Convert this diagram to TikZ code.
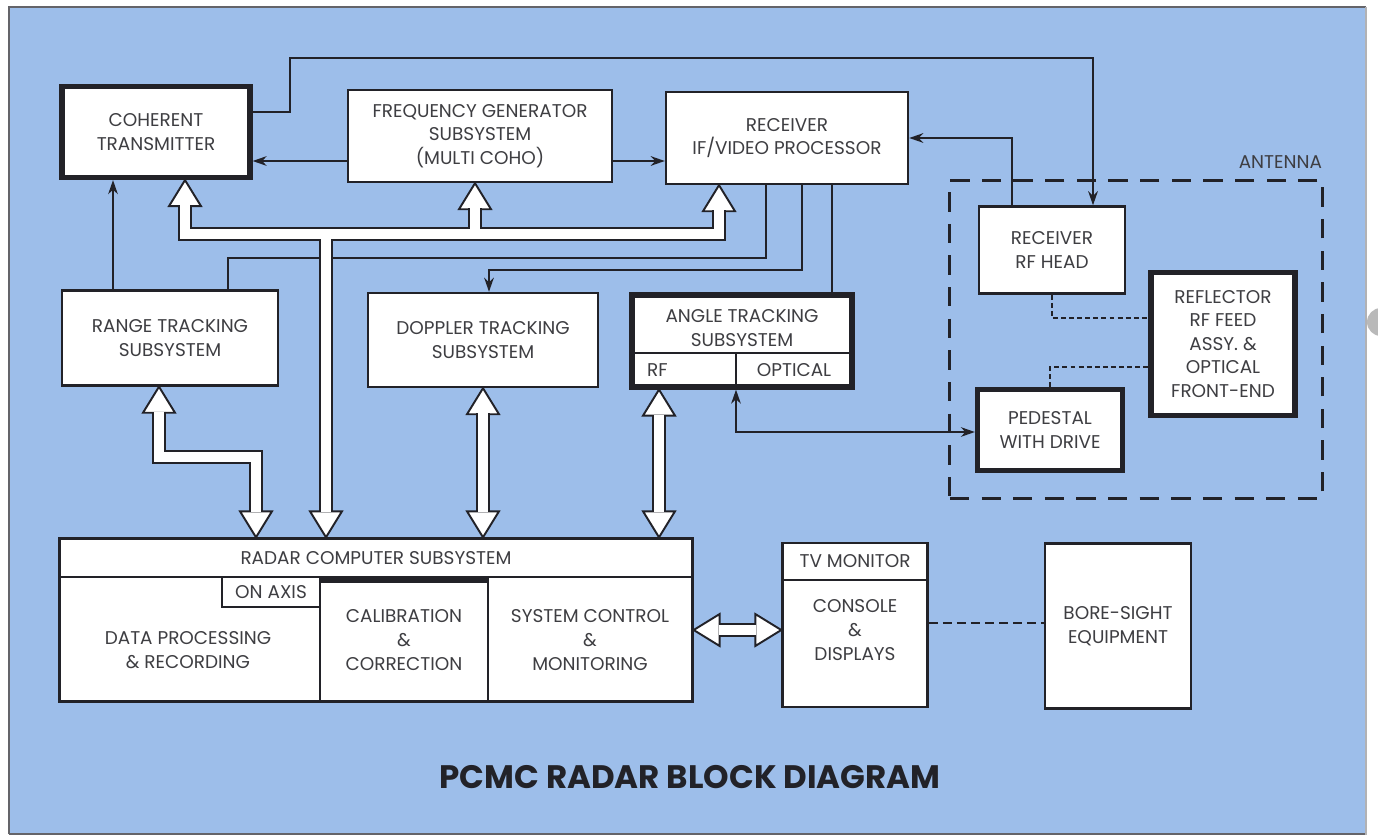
\documentclass[tikz,border=0pt]{standalone}
\usepackage{fontspec}
\setsansfont{Poppins}
\usetikzlibrary{positioning, arrows.meta, calc, fit}
\definecolor{panel}{RGB}{157,190,234}
\definecolor{ink}{RGB}{34,34,40}
\definecolor{txt}{RGB}{62,62,66}

\begin{document}
\begin{tikzpicture}[
    x=0.02cm, y=-0.02cm,
    font=\sffamily\fontsize{10.5}{13.4}\selectfont,
    box/.style={rectangle, draw=ink, fill=white, line width=1.4pt, text=txt, align=center, inner sep=0pt},
    heavybox/.style={box, line width=3pt},
    lbl/.style={text=txt, align=center, inner sep=1pt},
    wire/.style={draw=ink, line width=1.1pt},
    sig/.style={wire, -{Stealth[length=8pt, width=5.5pt]}},
    sigboth/.style={wire, {Stealth[length=8pt, width=5.5pt]}-{Stealth[length=8pt, width=5.5pt]}},
    dots/.style={draw=ink, line width=1.1pt, dash pattern=on 2.8pt off 1.8pt},
    antennabox/.style={draw=ink, line width=1.7pt, dash pattern=on 11pt off 7pt, inner sep=0.5cm},
    fatout/.style={draw=ink, line width=0.28cm, line join=miter},
    fatin/.style={draw=white, line width=0.2cm, line join=miter},
    fathead/.pic={\filldraw[fill=white, draw=ink, line width=1.1pt, line join=miter] (0,0) -- (-26,16) -- (-26,-16) -- cycle;}
]
    % --- sheet ---
    \useasboundingbox (0,0) rectangle (1378,835);
    \fill[white] (0,0) rectangle (1378,835);
    \fill[panel] (9,7) rectangle (1366,835);
    \draw[ink!70, line width=1.2pt] (9,834) -- (9,7) -- (1366,7);
    \draw[ink!70, line width=1.2pt] (9,834) -- (1366,834);
    \draw[ink!35, line width=0.8pt] (1366,7) -- (1366,835);
    \fill[gray!55] (1381,322) circle (14);

    % --- top row ---
    \node[heavybox, minimum width=3.76cm, minimum height=1.82cm] (ct) at (156,132) {COHERENT\\TRANSMITTER};
    \node[box, minimum width=5.28cm, minimum height=1.84cm] (fg) at (480,136) {FREQUENCY GENERATOR\\SUBSYSTEM\\(MULTI COHO)};
    \node[box, minimum width=4.84cm, minimum height=1.84cm] (rx) at (787,138) {RECEIVER\\IF/VIDEO PROCESSOR};

    % --- tracking row ---
    \node[box, minimum width=4.32cm, minimum height=1.9cm] (rt) at (170,338) {RANGE TRACKING\\SUBSYSTEM};
    \node[box, minimum width=4.6cm, minimum height=1.88cm] (dt) at (483,340) {DOPPLER TRACKING\\SUBSYSTEM};
    \node[heavybox, minimum width=4.4cm, minimum height=1.84cm] (angle) at (742,341) {};
    \node[lbl] (anglelbl) at (742,328) {ANGLE TRACKING\\SUBSYSTEM};
    \node[lbl, anchor=west] (rflbl) at (645,370) {RF};
    \node[lbl] (optlbl) at (794,370) {OPTICAL};
    \draw[wire] (angle.west |- 0,353) -- (angle.east |- 0,353);
    \draw[ink, line width=0.7pt] (736,353) -- (angle.south -| 736,0);

    % --- antenna ---
    \node[box, minimum width=2.92cm, minimum height=1.74cm] (rf) at (1052,250) {RECEIVER\\RF HEAD};
    \node[heavybox, minimum width=2.88cm, minimum height=2.86cm] (refl) at (1223,344) {REFLECTOR\\RF FEED\\ASSY. \&\\OPTICAL\\FRONT-END};
    \node[heavybox, minimum width=2.9cm, minimum height=1.62cm] (ped) at (1050,430) {PEDESTAL\\WITH DRIVE};
    \node[antennabox, fit=(rf)(refl)(ped)] (antenna) {};
    \node[lbl, anchor=east] (antlbl) at ($(antenna.north east)+(0,-17)$) {ANTENNA};

    % --- computer ---
    \node[box, minimum width=12.66cm, minimum height=3.26cm] (comp) at (376,620) {};
    \node[lbl] (complbl) at (376,558) {RADAR COMPUTER SUBSYSTEM};
    \draw[wire, line width=1.4pt] (comp.west |- 0,577) -- (comp.east |- 0,577);
    \draw[wire, line width=1.4pt] (320,577) -- (comp.south -| 320,0);
    \draw[wire, line width=1.4pt] (488,577) -- (comp.south -| 488,0);
    \draw[ink, line width=3pt] (320,580) -- (488,580);
    \node[box, line width=1.1pt, minimum width=1.96cm, minimum height=0.6cm] (onaxis) at (271,592) {ON AXIS};
    \node[lbl] (dplbl) at (188,650) {DATA PROCESSING\\\& RECORDING};
    \node[lbl] (callbl) at (404,640) {CALIBRATION\\\&\\CORRECTION};
    \node[lbl] (sclbl) at (590,640) {SYSTEM CONTROL\\\&\\MONITORING};

    % --- console / bore-sight ---
    \node[box, minimum width=2.9cm, minimum height=3.28cm] (console) at (855,625) {};
    \draw[wire, line width=1.4pt] (console.west |- 0,580) -- (console.east |- 0,580);
    \node[lbl] (tvlbl) at (855,561) {TV MONITOR};
    \node[lbl] (conlbl) at (855,630) {CONSOLE\\\&\\DISPLAYS};
    \node[box, minimum width=2.92cm, minimum height=3.3cm] (bore) at (1118,626) {BORE-SIGHT\\EQUIPMENT};

    \node[font=\sffamily\bfseries\fontsize{18.5}{22}\selectfont, text=ink] (title) at (690,777) {PCMC RADAR BLOCK DIAGRAM};

    % --- signal lines ---
    \draw[sig] (ct.east |- 0,112) -| (290,58) -| (rf.north -| 1093,0);
    \draw[sig] (fg.west |- 0,161) -- (ct.east |- 0,161);
    \draw[sig] (fg.east |- 0,161) -- (rx.west |- 0,161);
    \draw[sig] (rf.north -| 1012,0) |- (rx.east |- 0,138);
    \draw[sig] (rt.north -| 113,0) -- (ct.south -| 113,0);
    \draw[wire] (rt.north -| 228,0) |- (766,258) -- (rx.south -| 766,0);
    \draw[sig] (rx.south -| 802,0) |- (489,270) -- (dt.north -| 489,0);
    \draw[wire] (rx.south -| 832,0) -- (angle.north -| 832,0);
    \draw[sigboth] (angle.south -| 736,0) |- (ped.west |- 0,432);
    \draw[dots] (rf.south -| 1052,0) |- (refl.west |- 0,318);
    \draw[dots] (ped.north -| 1050,0) |- (refl.west |- 0,367);
    \draw[wire, dash pattern=on 5pt off 3pt] (console.east |- 0,623) -- (bore.west |- 0,623);

    % --- fat data arrows: heads, then outlined shafts ---
    \pic[rotate=90]  at (ct.south -| 185,0) {fathead};
    \pic[rotate=90]  at (fg.south -| 475,0) {fathead};
    \pic[rotate=90]  at (rx.south -| 719,0) {fathead};
    \pic[rotate=-90] at (comp.north -| 326,0) {fathead};
    \pic[rotate=90]  at (rt.south -| 159,0) {fathead};
    \pic[rotate=-90] at (comp.north -| 256,0) {fathead};
    \pic[rotate=90]  at (dt.south -| 483,0) {fathead};
    \pic[rotate=-90] at (comp.north -| 483,0) {fathead};
    \pic[rotate=90]  at (angle.south -| 659,0) {fathead};
    \pic[rotate=-90] at (comp.north -| 659,0) {fathead};
    \pic[rotate=180] at (comp.east |- 0,630) {fathead};
    \pic              at (console.west |- 0,630) {fathead};

    \foreach \layer in {fatout, fatin} {
      \draw[\layer] ($(ct.south -| 185,0)+(0,25)$) -- (185,234) -- (719,234) -- ($(rx.south -| 719,0)+(0,25)$);
      \draw[\layer] (475,234) -- ($(fg.south -| 475,0)+(0,25)$);
      \draw[\layer] (326,234) -- ($(comp.north -| 326,0)+(0,-25)$);
      \draw[\layer] ($(rt.south -| 159,0)+(0,25)$) -- (159,457) -- (256,457) -- ($(comp.north -| 256,0)+(0,-25)$);
      \draw[\layer] ($(dt.south -| 483,0)+(0,25)$) -- ($(comp.north -| 483,0)+(0,-25)$);
      \draw[\layer] ($(angle.south -| 659,0)+(0,25)$) -- ($(comp.north -| 659,0)+(0,-25)$);
      \draw[\layer] ($(comp.east |- 0,630)+(25,0)$) -- ($(console.west |- 0,630)+(-25,0)$);
    }
\end{tikzpicture}
\end{document}
